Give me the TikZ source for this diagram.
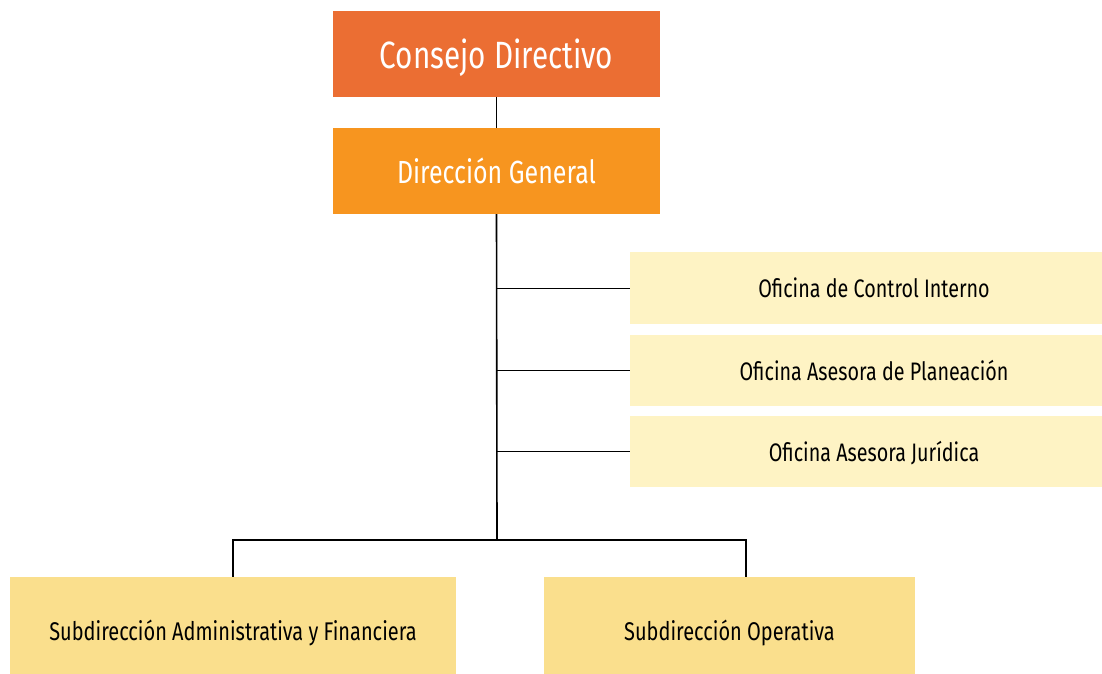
\documentclass[tikz,border=0pt]{standalone}
\usepackage{fontspec}
\setmainfont{Fira Sans}[FakeStretch=0.78]
\usetikzlibrary{positioning}

\definecolor{consejo}{HTML}{EB6E33}
\definecolor{direccion}{HTML}{F7951F}
\definecolor{oficina}{HTML}{FEF3C4}
\definecolor{subdir}{HTML}{FADF8D}

\tikzset{
  caja/.style={inner sep=0pt, minimum width=#1, text depth=0pt, anchor=center},
  linea/.style={line width=1.6pt, black}
}

\begin{document}
\begin{tikzpicture}[x=1pt, y=-1pt]
\useasboundingbox (0,0) rectangle (1102,673);
% cabeza
\node[caja=327pt, minimum height=86pt, fill=consejo, text=white, font=\fontsize{38}{42}\selectfont] (consejo) at (496.5,54) {Consejo Directivo};
\node[caja=327pt, minimum height=86pt, fill=direccion, text=white, font=\fontsize{32}{36}\selectfont] (direccion) at (496.5,171) {Dirección General};
% oficinas
\node[caja=488pt, minimum height=72pt, fill=oficina, font=\fontsize{25.3}{28}\selectfont] (ofi1) at (874,288) {Oficina de Control Interno};
\node[caja=488pt, minimum height=71pt, fill=oficina, font=\fontsize{25.3}{28}\selectfont] (ofi2) at (874,370.5) {Oficina Asesora de Planeación};
\node[caja=488pt, minimum height=71pt, fill=oficina, font=\fontsize{25.3}{28}\selectfont] (ofi3) at (874,451.5) {Oficina Asesora Jurídica};
% subdirecciones
\node[caja=446pt, minimum height=106pt, fill=subdir, font=\fontsize{25.6}{28}\selectfont] (sub1) at (233,630) {Subdirección Administrativa y Financiera};
\node[caja=371pt, minimum height=106pt, fill=subdir, font=\fontsize{25.6}{28}\selectfont] (sub2) at (729.5,630) {Subdirección Operativa};

\coordinate (bus) at (497,540);
\coordinate (b2) at (746,540);

\draw[linea] (consejo.south) -- (direccion.north);
\draw[linea] (direccion.south) -- (bus);
\draw[line width=0.8pt] (ofi1.west) -- (ofi1.west -| bus);
\draw[linea] (ofi2.west) -- (ofi2.west -| bus);
\draw[linea] (ofi3.west) -- (ofi3.west -| bus);
\draw[linea] (sub1.north) |- (b2) -- (b2 |- sub2.north);
\end{tikzpicture}
\end{document}
